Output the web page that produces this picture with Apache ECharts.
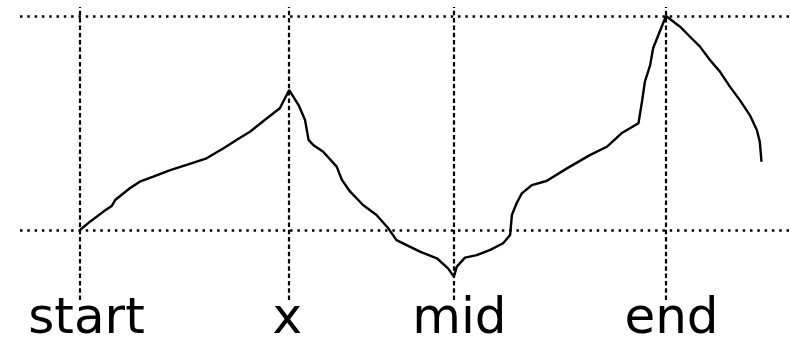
<!DOCTYPE html>
<html>
<head>
<meta charset="utf-8">
<script src="https://cdn.jsdelivr.net/npm/echarts@6/dist/echarts.min.js"></script>
<style>
html,body{margin:0;padding:0;background:#fff;}
#chart{width:791px;height:338px;}
</style>
</head>
<body>
<div id="chart"></div>
<script>
// Tick positions and labels on the x axis
var tickPositions = [0, 35.7, 63.8, 100];
var tickLabels = ['start', 'x', 'mid', 'end'];
// Horizontal reference levels
var levels = [0, 100];
// Line x and y values
var xs = [0, 1.7, 4.0, 5.4, 6.0, 8.5, 10.2, 12.5, 15.4, 18.2, 21.6, 24.5, 26.7, 29.0, 31.9, 34.1, 35.7,
  37.3, 38.4, 39.0, 39.8, 41.5, 43.8, 44.7, 46.1, 48.3, 50.6, 52.6, 54.0, 58.0, 60.9, 62.8, 63.8,
  64.3, 65.7, 67.7, 70.0, 72.2, 73.4, 73.7, 74.5, 75.4, 77.1, 79.6, 83.1, 87.0, 89.9, 92.4, 95.3, 95.9, 96.4, 97.3, 97.8, 98.7, 100,
  102.4, 104.1, 105.8, 107.5, 109.2, 110.9, 112.6, 114.3, 115.5, 116.0, 116.3];
var ys = [0, 3.9, 8.6, 11.2, 14.0, 19.5, 22.6, 24.9, 28.0, 30.4, 33.5, 38.2, 42.1, 45.9, 52.2, 56.9, 65.4,
  58.4, 51.4, 42.1, 39.7, 36.6, 29.6, 23.4, 17.9, 11.7, 7.0, 0.8, -4.7, -10.1, -13.2, -17.9, -21.8,
  -17.1, -12.9, -11.7, -9.3, -6.2, -2.3, 7.0, 12.5, 17.1, 21.0, 22.9, 28.8, 35.0, 38.9, 45.2, 49.9, 60.0, 69.3, 77.1, 84.9, 91.1, 100,
  95.0, 90.3, 85.7, 79.4, 74.0, 67.0, 60.7, 53.7, 46.7, 41.3, 31.9];

// Styling: small horizontal nudges of the tick labels (pixels, left padding / right padding)
var labelPads = [[0, 0, 0, 13], [0, 4, 0, 0], [0, 0, 0, 11], [0, 0, 0, 11]];

var data = xs.map(function (x, i) { return [x, ys[i]]; });
var markData = levels.map(function (v) {
  return { yAxis: v, lineStyle: { type: [2.5, 4.8], width: 2.5, color: '#000' } };
}).concat(tickPositions.map(function (v) {
  return { xAxis: v, lineStyle: { type: [4.5, 2.8], width: 2.2, color: '#000' } };
}));

var rich = {};
labelPads.forEach(function (p, i) {
  rich['t' + i] = { fontFamily: 'DejaVu Sans', fontSize: 50, color: '#000', padding: p };
});

var chart = echarts.init(document.getElementById('chart'), null, { renderer: 'canvas' });
chart.setOption({
  animation: false,
  backgroundColor: '#fff',
  grid: { left: 20, right: 0, top: 7, bottom: 38, containLabel: false, outerBoundsMode: 'none' },
  xAxis: {
    type: 'value', min: -10.24, max: 121.33,
    axisLine: { show: false }, axisTick: { show: false }, splitLine: { show: false },
    axisLabel: {
      customValues: tickPositions,
      margin: -5,
      hideOverlap: false,
      fontFamily: 'DejaVu Sans', fontSize: 50, color: '#000',
      rich: rich,
      formatter: function (v) {
        var i = tickPositions.indexOf(v);
        return i >= 0 ? '{t' + i + '|' + tickLabels[i] + '}' : '';
      }
    }
  },
  yAxis: {
    type: 'value', min: -32.7, max: 104.2,
    axisLine: { show: false }, axisTick: { show: false }, splitLine: { show: false }, axisLabel: { show: false }
  },
  series: [{
    type: 'line',
    data: data,
    showSymbol: false,
    lineStyle: { color: '#000', width: 2.4 },
    markLine: {
      silent: true, symbol: ['none', 'none'], label: { show: false },
      lineStyle: { width: 2.5, color: '#000', opacity: 1 },
      emphasis: { disabled: true },
      data: markData
    }
  }]
});
</script>
</body>
</html>
